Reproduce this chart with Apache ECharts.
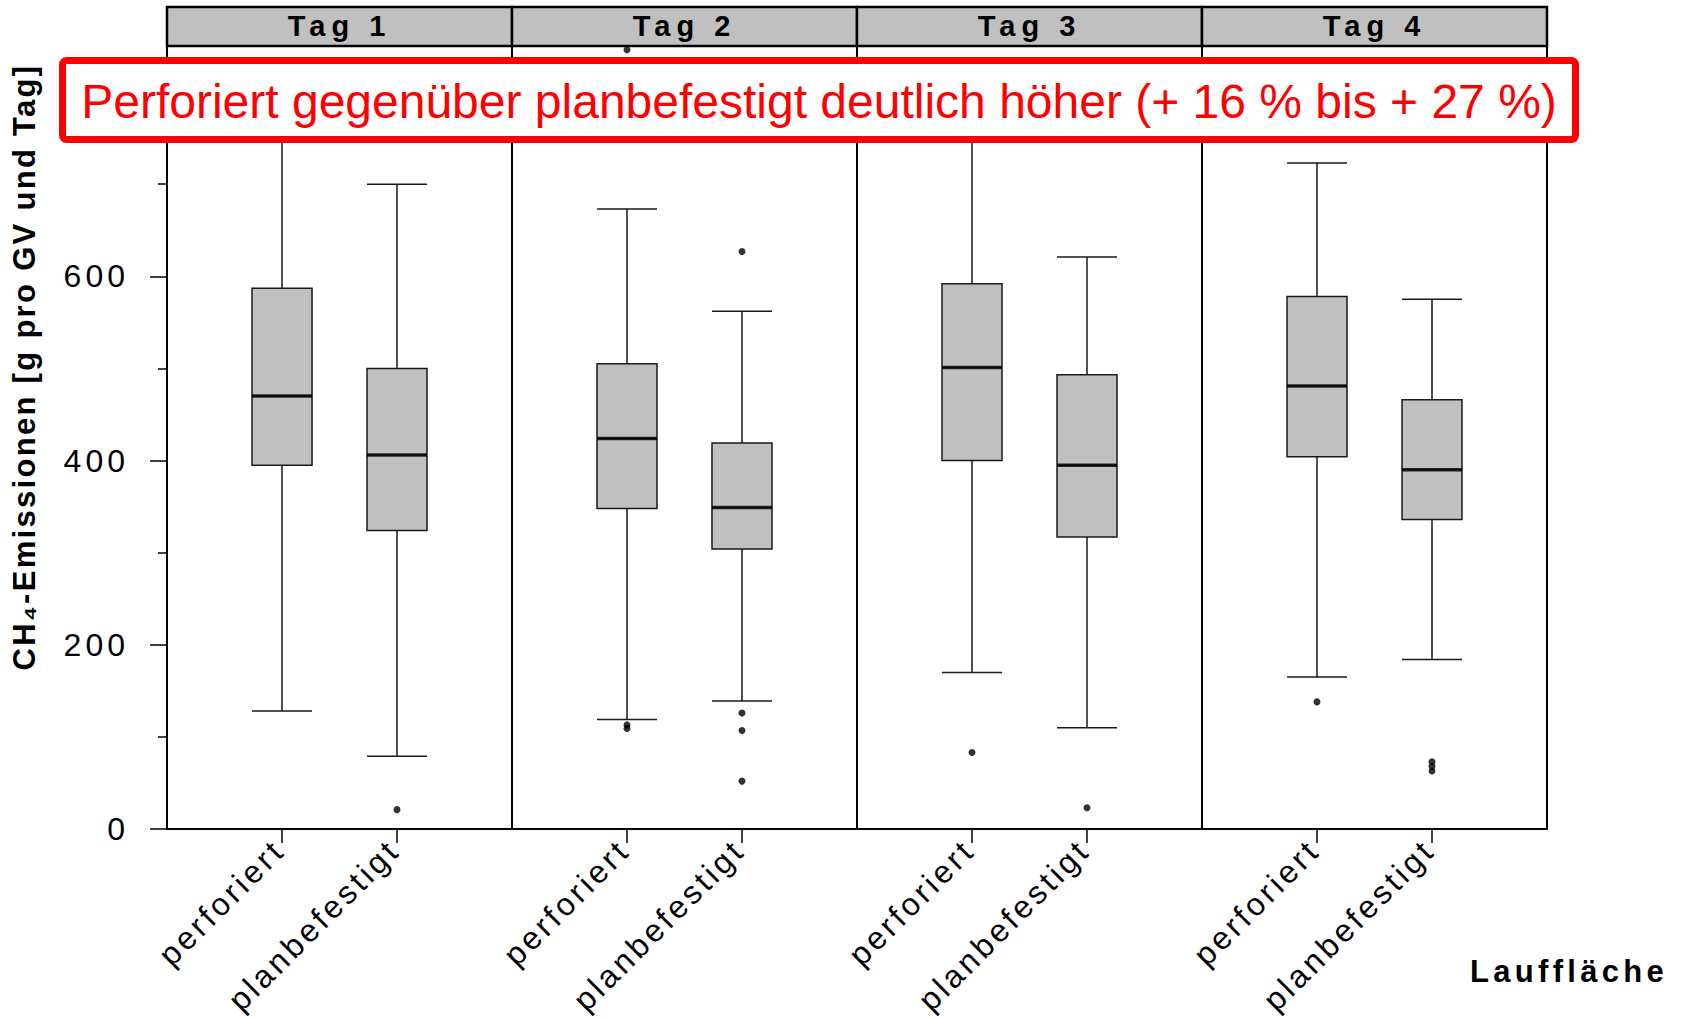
<!DOCTYPE html>
<html>
<head>
<meta charset="utf-8">
<script src="https://cdn.jsdelivr.net/npm/echarts@6/dist/echarts.min.js"></script>
<style>
  html, body { margin: 0; padding: 0; background: #fff; }
  #main { width: 1687px; height: 1020px; }
  /* Sperrsatz wie im Original, je Textart über die Füllfarbe unterschieden */
  #main text[fill="#000001"] { letter-spacing: 6px; }
  #main text[fill="#000002"] { letter-spacing: 2.3px; }
  #main text[fill="#000003"] { letter-spacing: 3.5px; }
  #main text[fill="#000004"] { letter-spacing: 4px; }
  #main text[fill="#000005"] { letter-spacing: 4.3px; }
</style>
</head>
<body>
<div id="main"></div>
<script>
// Daten
var days = ["Tag 1", "Tag 2", "Tag 3", "Tag 4"];
var categories = ["", "perforiert", "planbefestigt", ""];
var yTicks = [0, 200, 400, 600, 800];
var yLabels = [0, 200, 400, 600];
// [min, Q1, Median, Q3, max]
var perforiertBox = [
  [128, 395, 470, 587, 800],
  [119, 348, 424, 505, 673],
  [170, 400, 501, 592, 790],
  [165, 404, 481, 578, 723]
];
var planbefestigtBox = [
  [79, 324, 406, 500, 700],
  [139, 304, 349, 419, 562],
  [110, 317, 395, 493, 621],
  [184, 336, 390, 466, 575]
];
var perforiertOutliers = [[], [113, 109, 846], [83], [138]];
var planbefestigtOutliers = [[21], [627, 126, 107, 52], [23], [73, 68, 63]];

var panelLeft = 167;
var panelWidth = 345;
var plotTop = 46;
var plotBottom = 829;
var font = "'Liberation Sans', Arial, sans-serif";

var myChart = echarts.init(document.getElementById("main"), null, { renderer: "svg" });

var grids = [], xAxes = [], yAxes = [], series = [], graphics = [];

days.forEach(function (day, i) {
  var left = panelLeft + i * panelWidth;
  grids.push({
    left: left,
    top: plotTop,
    width: panelWidth,
    height: plotBottom - plotTop,
    show: true,
    borderColor: "#000",
    borderWidth: 2,
    backgroundColor: "#fff",
    outerBoundsMode: "none"
  });
  xAxes.push({
    type: "category",
    gridIndex: i,
    data: categories,
    boundaryGap: false,
    axisLine: { show: false },
    axisTick: {
      show: true,
      length: 14,
      interval: function (idx) { return idx === 1 || idx === 2; },
      lineStyle: { color: "#000", width: 1.5 }
    },
    axisLabel: {
      interval: 0,
      rotate: 45,
      margin: 13,
      padding: [0, 4, 0, 0],
      fontSize: 32,
      fontFamily: font,
      color: "#000003"
    },
    splitLine: { show: false }
  });
  var y = {
    type: "value",
    gridIndex: i,
    min: 0,
    max: 850,
    interval: 200,
    splitLine: { show: false },
    axisLine: { show: false },
    axisTick: { show: false },
    axisLabel: { show: false }
  };
  if (i === 0) {
    y.axisLine = { show: true, lineStyle: { color: "#000", width: 2 } };
    y.axisTick = { show: true, length: 17, customValues: yTicks, lineStyle: { color: "#000", width: 1.5 } };
    y.minorTick = { show: true, splitNumber: 2, length: 9, lineStyle: { color: "#000", width: 1.5 } };
    y.axisLabel = {
      show: true,
      margin: 38,
      fontSize: 32,
      fontFamily: font,
      color: "#000004",
      customValues: yLabels
    };
  }
  yAxes.push(y);

  series.push({
    type: "boxplot",
    xAxisIndex: i,
    yAxisIndex: i,
    data: [[1].concat(perforiertBox[i]), [2].concat(planbefestigtBox[i])],
    encode: { x: 0, y: [1, 2, 3, 4, 5] },
    boxWidth: [60, 60],
    itemStyle: { color: "#c0c0c0", borderColor: "#1a1a1a", borderWidth: 1.5 },
    emphasis: { disabled: true }
  });
  // Medianlinie dicker
  series.push({
    type: "scatter",
    xAxisIndex: i,
    yAxisIndex: i,
    symbol: "rect",
    symbolSize: [60, 3.5],
    itemStyle: { color: "#000" },
    data: [[1, perforiertBox[i][2]], [2, planbefestigtBox[i][2]]],
    z: 5
  });
  var pts = perforiertOutliers[i].map(function (v) { return [1, v]; })
    .concat(planbefestigtOutliers[i].map(function (v) { return [2, v]; }));
  series.push({
    type: "scatter",
    xAxisIndex: i,
    yAxisIndex: i,
    symbol: "circle",
    symbolSize: 7,
    itemStyle: { color: "#000" },
    data: pts,
    z: 5
  });

  // Kopfleiste
  graphics.push({
    type: "rect",
    z: 100,
    shape: { x: left, y: 7, width: panelWidth, height: plotTop - 7 },
    style: { fill: "#c0c0c0", stroke: "#000", lineWidth: 2.5 }
  });
  graphics.push({
    type: "text",
    z: 101,
    x: left + panelWidth / 2,
    y: 26,
    style: {
      text: day,
      fill: "#000001",
      font: "bold 29px " + font,
      textAlign: "center",
      textVerticalAlign: "middle"
    }
  });
});

// Achsentitel links
graphics.push({
  type: "text",
  z: 111,
  x: 24,
  y: 367,
  rotation: Math.PI / 2,
  style: {
    text: "CH\u2084-Emissionen [g pro GV und Tag]",
    fill: "#000002",
    font: "bold 31px " + font,
    textAlign: "center",
    textVerticalAlign: "middle"
  }
});

// Hinweisbox
graphics.push({
  type: "rect",
  z: 110,
  shape: { x: 62.5, y: 60.5, width: 1513, height: 79, r: 4 },
  style: { fill: "#fff", stroke: "#ff0000", lineWidth: 7 }
});
graphics.push({
  type: "text",
  z: 111,
  x: 819,
  y: 101,
  style: {
    text: "Perforiert gegenüber planbefestigt deutlich höher (+ 16 % bis + 27 %)",
    fill: "#ff0000",
    font: "48px " + font,
    textAlign: "center",
    textVerticalAlign: "middle"
  }
});
graphics.push({
  type: "text",
  z: 111,
  x: 1470,
  y: 971,
  style: {
    text: "Lauffläche",
    fill: "#000005",
    font: "bold 31px " + font,
    textAlign: "left",
    textVerticalAlign: "middle"
  }
});

var options = {
  backgroundColor: "#fff",
  animation: false,
  grid: grids,
  xAxis: xAxes,
  yAxis: yAxes,
  series: series,
  graphic: graphics
};
myChart.setOption(options);
</script>
</body>
</html>
